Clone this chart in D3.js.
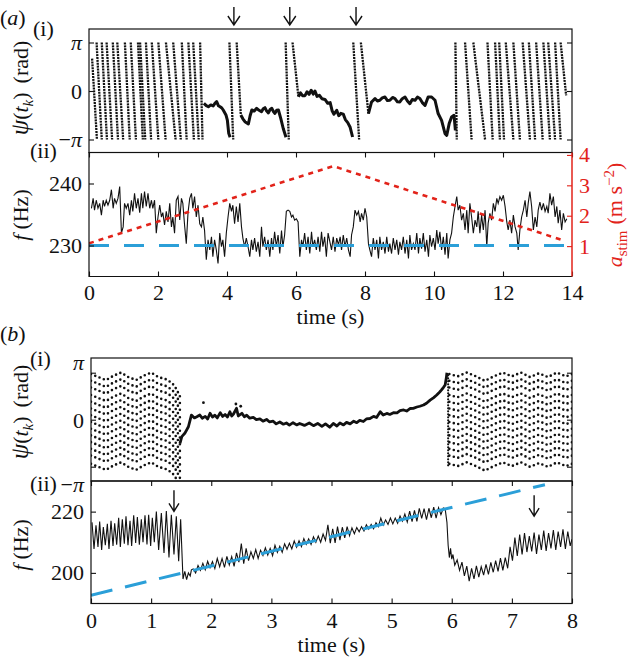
<!DOCTYPE html>
<html>
<head>
<meta charset="utf-8">
<script src="https://cdn.jsdelivr.net/npm/d3@7/dist/d3.min.js"></script>
<style>
body { margin: 0; background: #fff; }
svg { display: block; }
text { font-family: "Liberation Serif", "Times New Roman", Tinos, serif; fill: #111; }
</style>
</head>
<body>
<svg width="634" height="660"></svg>
<script>
var P = Math.PI;

// ---------- panel (a) data ----------
var timeTicksA = [0, 2, 4, 6, 8, 10, 12, 14];
var freqTicksA = [230, 240];
var stimTicks = [1, 2, 3, 4];
var phaseTicks = [-P, 0, P];
var arrowTimesA = [4.2, 5.82, 7.74];

// phase slips: [t start, phase start, t end, phase end]
var slipsA = [
	[0.09, 2.10, 0.23, -P], [0.22, P, 0.37, -P], [0.37, P, 0.52, -P], [0.51, P, 0.67, -P],
	[0.69, P, 0.84, -P], [0.82, P, 0.99, -P], [1.04, P, 1.18, -P], [1.21, P, 1.36, -P],
	[1.42, P, 1.56, -P], [1.48, P, 1.63, -P], [1.65, P, 1.80, -P], [1.82, P, 2.01, -P],
	[2.01, P, 2.22, -P], [2.23, P, 2.51, -P], [2.44, P, 2.66, -P], [2.69, P, 2.83, -P],
	[2.88, P, 3.04, -P], [3.02, P, 3.18, -P], [3.22, P, 3.29, -P],
	[4.07, P, 4.18, -P], [4.28, P, 4.40, -1.55],
	[5.70, P, 5.79, -P], [5.90, P, 6.07, -0.37],
	[7.66, P, 7.83, -P], [7.88, P, 8.10, -1.46],
	[10.62, P, 10.66, -P], [10.90, P, 11.09, -P], [11.14, P, 11.48, -P], [11.55, P, 11.70, -P],
	[11.77, P, 11.91, -P], [11.89, P, 12.03, -P], [12.08, P, 12.30, -P], [12.30, P, 12.49, -P],
	[12.57, P, 12.78, -P], [12.75, P, 12.93, -P], [12.96, P, 13.15, -P], [13.17, P, 13.36, -P],
	[13.31, P, 13.51, -P], [13.51, P, 13.67, -P], [13.67, P, 13.83, -0.28]
];

// phase-locked stretches [t, phase]
var lockedA = [
	[[3.33,-0.80],[3.40,-0.95],[3.46,-1.02],[3.53,-0.90],[3.60,-0.97],[3.65,-0.80],[3.70,-0.69],[3.75,-0.95],[3.80,-1.02],[3.85,-1.10],[3.89,-1.23],[3.97,-1.55],[4.01,-1.88],[4.05,-2.74],[4.09,-3.0]],
	[[4.40,-1.55],[4.46,-1.80],[4.52,-1.99],[4.62,-2.14],[4.67,-1.60],[4.72,-1.23],[4.79,-1.30],[4.86,-1.12],[4.93,-1.25],[5.00,-1.34],[5.05,-1.15],[5.10,-1.08],[5.15,-1.30],[5.20,-1.42],[5.25,-1.20],[5.30,-1.12],[5.35,-1.35],[5.39,-1.45],[5.44,-1.25],[5.49,-1.23],[5.56,-1.79],[5.63,-2.43],[5.71,-3.0]],
	[[6.07,-0.37],[6.13,-0.12],[6.19,-0.30],[6.26,-0.30],[6.32,-0.05],[6.38,-0.22],[6.44,0.05],[6.50,-0.20],[6.55,0.0],[6.61,-0.35],[6.68,-0.28],[6.75,-0.50],[6.84,-0.55],[6.92,-0.80],[6.99,-0.75],[7.05,-1.30],[7.10,-1.50],[7.18,-1.25],[7.24,-1.60],[7.30,-1.45],[7.37,-1.50],[7.43,-1.85],[7.50,-2.05],[7.57,-2.35],[7.64,-2.98]],
	[[8.10,-1.46],[8.19,-0.71],[8.29,-0.49],[8.36,-0.65],[8.43,-0.60],[8.50,-0.45],[8.58,-0.39],[8.65,-0.62],[8.72,-0.60],[8.80,-0.42],[8.87,-0.49],[8.94,-0.70],[9.01,-0.71],[9.08,-0.50],[9.16,-0.39],[9.23,-0.65],[9.30,-0.82],[9.37,-0.55],[9.45,-0.60],[9.52,-0.40],[9.59,-0.49],[9.66,-0.75],[9.74,-0.93],[9.83,-0.39],[9.93,-0.39],[10.03,-0.60],[10.12,-1.46],[10.22,-1.90],[10.32,-2.76],[10.37,-2.87],[10.44,-2.11],[10.51,-1.68],[10.58,-1.57],[10.62,-2.55]]
];

// measured frequency [t, Hz]
var freqA = [
	[0.07,236.0],[0.12,237.6],[0.16,235.7],[0.21,237.3],[0.26,236.0],[0.31,236.8],[0.36,234.9],[0.41,237.3],[0.45,236.3],[0.50,237.3],
	[0.55,236.5],[0.60,237.3],[0.65,239.0],[0.70,236.0],[0.74,237.6],[0.79,236.8],[0.84,237.6],[0.89,239.5],[0.94,232.0],[0.99,233.0],
	[1.03,236.8],[1.08,236.0],[1.13,236.8],[1.18,234.9],[1.23,237.3],[1.27,235.5],[1.32,238.4],[1.37,236.0],[1.42,237.6],[1.47,235.3],
	[1.52,238.4],[1.56,236.0],[1.61,238.7],[1.66,236.3],[1.71,238.4],[1.76,236.0],[1.81,237.3],[1.85,236.0],[1.90,237.3],[1.95,232.0],
	[2.00,234.6],[2.05,236.5],[2.10,234.6],[2.14,235.3],[2.19,233.3],[2.24,235.5],[2.29,233.8],[2.34,236.8],[2.39,233.0],[2.43,234.6],
	[2.48,232.0],[2.53,237.3],[2.58,237.9],[2.63,234.1],[2.68,237.6],[2.72,236.8],[2.77,233.3],[2.82,230.3],[2.87,235.3],[2.92,237.6],
	[2.97,238.4],[3.01,236.0],[3.06,237.9],[3.11,234.6],[3.16,236.5],[3.21,233.5],[3.26,233.0],[3.30,234.6],[3.35,232.4],[3.40,227.7],
	[3.45,230.9],[3.50,229.3],[3.55,231.4],[3.59,228.2],[3.64,230.9],[3.69,229.3],[3.74,227.1],[3.79,232.0],[3.84,229.8],[3.88,230.9],
	[3.93,228.2],[3.98,232.0],[4.03,234.6],[4.08,236.8],[4.13,235.5],[4.17,236.5],[4.22,233.5],[4.27,236.3],[4.32,233.8],[4.37,236.8],
	[4.42,233.0],[4.46,231.2],[4.51,229.8],[4.56,231.2],[4.61,229.8],[4.66,228.2],[4.71,230.9],[4.75,229.3],[4.80,231.2],[4.85,229.0],
	[4.90,230.6],[4.95,228.2],[5.00,233.0],[5.04,229.8],[5.09,231.4],[5.14,229.3],[5.19,230.9],[5.24,228.2],[5.29,231.2],[5.33,229.3],
	[5.38,232.2],[5.43,229.8],[5.48,231.7],[5.53,228.7],[5.58,232.4],[5.62,229.8],[5.67,231.7],[5.72,235.5],[5.77,235.7],[5.82,235.5],
	[5.87,234.6],[5.91,234.9],[5.96,234.1],[6.01,234.3],[6.06,233.8],[6.11,228.2],[6.16,230.9],[6.20,229.8],[6.25,232.0],[6.30,229.3],
	[6.35,231.4],[6.40,228.7],[6.45,232.2],[6.49,229.8],[6.54,230.9],[6.59,229.3],[6.64,231.4],[6.69,229.0],[6.74,232.2],[6.78,229.8],
	[6.83,231.4],[6.88,228.2],[6.93,232.0],[7.03,229.3],[7.08,231.4],[7.13,229.0],[7.18,231.2],[7.23,230.1],[7.28,231.4],[7.32,229.3],
	[7.37,231.7],[7.42,229.8],[7.47,231.2],[7.52,229.3],[7.57,228.2],[7.61,231.7],[7.66,233.0],[7.71,235.7],[7.76,234.9],[7.81,235.5],
	[7.86,233.8],[7.90,235.2],[7.95,234.1],[8.00,236.0],[8.05,234.6],[8.10,230.3],[8.14,229.3],[8.19,228.2],[8.24,231.2],[8.29,229.3],
	[8.34,230.9],[8.39,227.9],[8.43,231.4],[8.48,229.3],[8.53,230.6],[8.58,228.7],[8.63,231.4],[8.68,229.0],[8.72,230.3],[8.77,228.7],
	[8.82,231.2],[8.87,229.3],[8.92,230.9],[8.97,228.5],[9.01,230.6],[9.06,229.3],[9.11,231.4],[9.16,228.7],[9.21,230.9],[9.26,227.9],
	[9.30,231.7],[9.35,229.3],[9.40,230.3],[9.45,229.3],[9.50,232.0],[9.55,228.7],[9.59,231.2],[9.64,229.5],[9.69,232.0],[9.74,229.0],
	[9.79,230.9],[9.84,228.2],[9.88,231.7],[9.93,229.8],[9.98,231.2],[10.03,229.3],[10.08,232.5],[10.12,230.3],[10.17,232.2],[10.22,229.3],
	[10.27,231.4],[10.32,228.5],[10.37,232.0],[10.41,227.9],[10.46,230.9],[10.51,232.0],[10.56,234.6],[10.61,236.3],[10.66,237.9],[10.70,235.7],
	[10.75,236.5],[10.80,234.1],[10.85,235.2],[10.90,232.5],[10.95,235.7],[10.99,232.0],[11.04,236.8],[11.09,234.6],[11.14,232.0],[11.19,234.1],
	[11.24,233.0],[11.28,235.5],[11.33,232.0],[11.38,234.9],[11.43,232.5],[11.48,235.7],[11.53,229.8],[11.57,233.6],[11.62,235.2],[11.67,234.1],
	[11.72,236.8],[11.77,235.5],[11.82,237.6],[11.86,236.8],[11.91,237.9],[11.96,237.3],[12.01,238.1],[12.06,236.3],[12.11,233.8],[12.15,232.5],
	[12.20,234.1],[12.25,232.0],[12.30,234.9],[12.35,233.0],[12.40,232.0],[12.44,229.3],[12.49,232.5],[12.54,234.6],[12.59,235.7],[12.64,237.3],
	[12.69,234.6],[12.73,236.8],[12.78,238.7],[12.83,236.3],[12.88,232.5],[12.93,234.6],[12.98,233.0],[13.02,235.7],[13.07,237.0],[13.12,235.7],
	[13.17,236.8],[13.22,235.5],[13.27,236.3],[13.31,235.2],[13.36,238.4],[13.41,236.5],[13.46,237.9],[13.51,234.6],[13.56,236.3],[13.60,233.6],
	[13.65,235.7],[13.70,232.5],[13.75,235.2],[13.80,233.8],[13.85,234.3]
];

var stimA = [[0, 1.09], [7.08, 3.63], [13.8, 1.17]];
var targetA = [[0, 230], [14, 230]];

// ---------- panel (b) data ----------
var timeTicksB = [0, 1, 2, 3, 4, 5, 6, 7, 8];
var freqTicksB = [200, 220];
var arrowsB = [[1.38, 220.1], [7.37, 218.5]];
var targetB = [[0, 192.7], [7.55, 228.8]];

var freqB = [
	[0.017,216.5],[0.050,207.8],[0.083,215.5],[0.116,208.5],[0.144,216.8],[0.177,207.5],[0.205,215.0],[0.238,209.0],[0.272,216.0],[0.299,207.8],
	[0.333,217.0],[0.366,208.8],[0.394,216.2],[0.427,209.2],[0.460,218.0],[0.488,208.5],[0.521,217.5],[0.554,209.5],[0.582,218.5],[0.615,209.0],
	[0.649,217.0],[0.676,208.8],[0.710,218.8],[0.743,209.8],[0.771,218.2],[0.804,209.2],[0.837,217.5],[0.865,210.0],[0.898,218.8],[0.931,209.3],
	[0.959,219.0],[0.992,208.8],[1.020,218.0],[1.053,210.0],[1.087,220.0],[1.125,207.5],[1.170,219.5],[1.214,206.5],[1.253,220.2],[1.297,205.0],
	[1.336,219.0],[1.380,206.0],[1.419,218.5],[1.458,203.8],[1.491,217.5],[1.53,198.0],[1.56,200.5],[1.59,197.8],[1.62,200.0],[1.65,199.0],
	[1.67,201.0],[1.70,201.3],[1.74,200.0],[1.78,202.4],[1.82,200.8],[1.86,203.1],[1.90,201.0],[1.94,203.8],[1.98,201.7],[2.02,203.7],
	[2.06,201.4],[2.10,204.7],[2.14,202.0],[2.18,204.7],[2.22,201.8],[2.26,205.4],[2.30,202.6],[2.34,205.3],[2.38,202.1],[2.42,206.5],
	[2.46,203.5],[2.50,209.6],[2.54,203.0],[2.58,208.0],[2.62,204.0],[2.66,206.9],[2.70,204.7],[2.74,207.6],[2.78,204.7],[2.82,207.4],
	[2.86,205.7],[2.90,208.2],[2.94,205.8],[2.98,208.0],[3.02,205.6],[3.06,209.0],[3.10,206.7],[3.14,208.7],[3.18,206.7],[3.22,209.5],
	[3.26,207.7],[3.30,209.7],[3.34,207.8],[3.38,210.4],[3.42,208.4],[3.46,210.5],[3.50,208.6],[3.54,211.2],[3.58,209.3],[3.62,211.1],
	[3.66,209.3],[3.70,211.8],[3.74,210.0],[3.78,212.0],[3.82,210.0],[3.86,212.7],[3.90,210.6],[3.94,215.7],[3.98,209.7],[4.02,214.4],
	[4.06,209.8],[4.10,215.1],[4.14,210.7],[4.18,214.9],[4.22,211.4],[4.26,215.1],[4.30,212.1],[4.34,214.7],[4.38,212.8],[4.42,214.8],
	[4.46,213.4],[4.50,215.1],[4.54,213.7],[4.58,215.7],[4.62,214.3],[4.66,215.8],[4.70,214.4],[4.74,216.4],[4.78,215.1],[4.82,217.9],
	[4.86,215.6],[4.90,217.3],[4.94,215.8],[4.98,217.9],[5.02,216.0],[5.06,217.9],[5.10,216.2],[5.14,218.6],[5.18,216.9],[5.22,219.2],
	[5.26,216.6],[5.30,220.2],[5.34,216.7],[5.38,220.4],[5.42,216.8],[5.46,221.1],[5.50,217.8],[5.54,221.0],[5.58,217.4],[5.62,221.1],
	[5.66,218.0],[5.70,221.5],[5.74,217.9],[5.78,221.3],[5.82,219.0],[5.86,221.2],[5.89,221.0],[5.92,216.5],[5.94,209.0],[5.96,205.0],
	[5.98,208.0],[6.00,204.5],[6.02,206.0],[6.05,202.5],[6.09,204.2],[6.13,200.8],[6.17,203.5],[6.21,199.0],[6.25,202.2],[6.29,197.3],
	[6.33,201.5],[6.37,198.0],[6.41,202.3],[6.45,198.6],[6.49,202.0],[6.53,199.3],[6.57,202.8],[6.61,199.5],[6.65,203.4],[6.69,200.2],
	[6.73,204.0],[6.77,200.5],[6.81,204.8],[6.85,200.8],[6.89,205.0],[6.93,201.5],[6.97,208.5],[7.01,204.0],[7.05,211.5],[7.09,205.5],
	[7.13,212.5],[7.17,206.0],[7.21,213.0],[7.25,206.8],[7.29,212.0],[7.33,207.0],[7.37,213.2],[7.41,206.2],[7.45,212.5],[7.49,207.5],
	[7.53,213.8],[7.57,207.2],[7.61,213.0],[7.65,208.0],[7.69,214.0],[7.73,207.5],[7.77,213.5],[7.81,208.5],[7.85,214.2],[7.89,207.8],
	[7.93,213.5],[7.97,208.8],[8.00,211.0]
];

// locked phase in (b)(i) [t, phase]
var lockedB = [
	[1.48,-1.58],[1.51,-1.13],[1.56,-0.91],[1.62,-0.47],[1.67,0.31],[1.72,0.12],[1.76,0.20],[1.81,0.31],[1.85,0.10],[1.90,0.22],
	[1.94,0.05],[1.98,0.43],[2.02,0.18],[2.06,0.30],[2.10,0.12],[2.15,0.47],[2.19,0.22],[2.23,0.35],[2.27,0.18],[2.31,0.53],
	[2.34,0.25],[2.37,0.38],[2.42,0.76],[2.45,0.25],[2.51,0.43],[2.55,0.20],[2.59,0.30],[2.64,0.10],[2.70,0.15],[2.75,0.00],
	[2.81,0.05],[2.86,-0.10],[2.92,0.02],[2.97,-0.15],[3.03,-0.10],[3.08,-0.28],[3.14,-0.15],[3.20,-0.30],[3.25,-0.22],[3.30,-0.36],
	[3.36,-0.20],[3.42,-0.35],[3.47,-0.25],[3.55,-0.38],[3.63,-0.22],[3.70,-0.40],[3.77,-0.25],[3.84,-0.45],[3.90,-0.28],[3.97,-0.50],
	[4.03,-0.25],[4.09,-0.42],[4.14,-0.22],[4.20,-0.35],[4.25,-0.18],[4.31,-0.28],[4.37,-0.10],[4.42,-0.20],[4.47,-0.05],[4.53,-0.12],
	[4.58,0.05],[4.64,0.08],[4.70,0.22],[4.75,0.15],[4.81,0.53],[4.86,0.31],[4.92,0.42],[4.97,0.35],[5.03,0.47],[5.09,0.45],
	[5.14,0.60],[5.20,0.65],[5.25,0.58],[5.31,0.75],[5.36,0.76],[5.42,0.85],[5.47,0.90],[5.53,0.98],[5.58,1.10],[5.64,1.31],
	[5.70,1.48],[5.75,1.65],[5.80,1.85],[5.83,1.99],[5.86,2.15],[5.89,2.32],[5.91,2.80],[5.92,3.14]
];
var strayDotsB = [[1.87, 1.14], [2.41, 1.05], [2.49, 0.90]];

// unlocked stretches in (b)(i): rows of stroboscopic dots
var rowPhasesB = [3.05, 2.6, 2.15, 1.65, 1.2, 0.75, 0.3, -0.15, -0.6, -1.05, -1.5, -1.95, -2.4, -2.95];
var rowShapeLeftB = [[0.0,0],[0.12,-0.2],[0.25,-0.4],[0.38,-0.1],[0.5,0.1],[0.62,-0.2],[0.75,-0.4],[0.88,-0.1],[1.0,0.1],[1.12,-0.2],[1.25,-0.35],[1.35,-0.6],[1.42,-1.0],[1.48,-1.5]];
var rowShapeRightB = [[5.96,0],[6.1,-0.15],[6.25,0.1],[6.4,-0.15],[6.55,-0.45],[6.7,-0.15],[6.85,0.1],[7.0,-0.15],[7.15,0.1],[7.3,-0.2],[7.45,0.05],[7.6,-0.2],[7.75,0.1],[7.9,-0.15],[8.0,0.0]];
var dotColumnsB = [[5.94, -3.05, 3.1]];

// ---------- drawing ----------
var svg = d3.select("svg");
var red = "#e2231a", blue = "#2b9fd8";

var xA = d3.scaleLinear().domain([0, 14]).range([89, 572]);
var yPhA = d3.scaleLinear().domain([-P, P]).range([139.5, 42.5]);
var yFA = d3.scaleLinear().domain([225, 245]).range([276.5, 152.5]);
var yStim = d3.scaleLinear().domain([0, 4.08]).range([276.5, 152.5]);
var xB = d3.scaleLinear().domain([0, 8]).range([91, 572]);
var yPhB = d3.scaleLinear().domain([-P, P]).range([466.7, 372.7]);
var yFB = d3.scaleLinear().domain([190, 230]).range([603.5, 481]);

function clip(id, x0, y0, x1, y1) {
	svg.append("clipPath").attr("id", id).append("rect")
		.attr("x", x0).attr("y", y0).attr("width", x1 - x0).attr("height", y1 - y0);
}
clip("cAi", 89, 29, 572, 152.5);
clip("cAii", 89, 152.5, 572, 276.5);
clip("cBi", 91, 358, 572, 481);
clip("cBii", 91, 481, 572, 603.5);

function phaseText(sel) {
	sel.each(function(d) {
		var t = d3.select(this).text("");
		if (d < 0) t.append("tspan").text("\u2212");
		if (d !== 0) t.append("tspan").attr("font-style", "italic").text("\u03c0");
		else t.append("tspan").text("0");
	});
}
function styleAxis(g) {
	g.select(".domain").remove();
	g.selectAll("line").attr("stroke", "#111").attr("stroke-width", 1.1);
	g.selectAll("text").attr("font-size", 22).attr("font-family", null).attr("fill", "#111");
}

// ---- (a)(i) ----
var gAi = svg.append("g").attr("clip-path", "url(#cAi)");
var lineA = d3.line().x(function(d) { return xA(d[0]); }).y(function(d) { return yPhA(d[1]); });
slipsA.forEach(function(s) {
	gAi.append("path").attr("d", lineA([[s[0], s[1]], [s[2], s[3]]]))
		.attr("fill", "none").attr("stroke", "#111").attr("stroke-width", 2.3)
		.attr("stroke-dasharray", "2,0.9");
});
lockedA.forEach(function(seg) {
	gAi.append("path").attr("d", lineA(seg)).attr("fill", "none")
		.attr("stroke", "#111").attr("stroke-width", 3).attr("stroke-linejoin", "round");
});
svg.append("g").attr("transform", "translate(89,0)")
	.call(d3.axisLeft(yPhA).tickValues(phaseTicks).tickSize(-5).tickPadding(7))
	.call(styleAxis).selectAll("text").call(phaseText);
svg.append("g").attr("transform", "translate(572,0)")
	.call(d3.axisRight(yPhA).tickValues(phaseTicks).tickSize(-5).tickFormat(""))
	.call(styleAxis);
svg.append("rect").attr("x", 89).attr("y", 29).attr("width", 483).attr("height", 123.5)
	.attr("fill", "none").attr("stroke", "#111").attr("stroke-width", 1.2);

arrowTimesA.forEach(function(t) {
	var x = xA(t);
	svg.append("path").attr("d", "M" + x + ",7V25M" + (x - 6) + ",16L" + x + ",25L" + (x + 6) + ",16")
		.attr("fill", "none").attr("stroke", "#111").attr("stroke-width", 1.4);
});

// ---- (a)(ii) ----
var gAii = svg.append("g").attr("clip-path", "url(#cAii)");
var lineF = d3.line().x(function(d) { return xA(d[0]); }).y(function(d) { return yFA(d[1]); });
var lineS = d3.line().x(function(d) { return xA(d[0]); }).y(function(d) { return yStim(d[1]); });
gAii.append("path").attr("d", lineF(freqA)).attr("fill", "none").attr("stroke", "#111").attr("stroke-width", 1.1);
gAii.append("path").attr("d", lineF(targetA)).attr("fill", "none").attr("stroke", blue)
	.attr("stroke-width", 3).attr("stroke-dasharray", "20,15");
gAii.append("path").attr("d", lineS(stimA)).attr("fill", "none").attr("stroke", red)
	.attr("stroke-width", 2.6).attr("stroke-dasharray", "5,5");

svg.append("g").attr("transform", "translate(0,276.5)")
	.call(d3.axisBottom(xA).tickValues(timeTicksA).tickSize(-5).tickPadding(8).tickFormat(d3.format("d")))
	.call(styleAxis);
svg.append("g").attr("transform", "translate(0,152.5)")
	.call(d3.axisTop(xA).tickValues(timeTicksA).tickSize(-5).tickFormat(""))
	.call(styleAxis);
svg.append("g").attr("transform", "translate(89,0)")
	.call(d3.axisLeft(yFA).tickValues(freqTicksA).tickSize(-5).tickPadding(7))
	.call(styleAxis);
svg.append("path").attr("d", "M572,152.5H89V276.5H572").attr("fill", "none").attr("stroke", "#111").attr("stroke-width", 1.2);
var gStim = svg.append("g").attr("transform", "translate(572,0)")
	.call(d3.axisRight(yStim).tickValues(stimTicks).tickSize(-5).tickPadding(7).tickFormat(d3.format("d")))
	.call(styleAxis);
gStim.selectAll("line").attr("stroke", red);
gStim.selectAll("text").attr("fill", red).style("fill", red);
svg.append("line").attr("x1", 572).attr("x2", 572).attr("y1", 152.5).attr("y2", 276.5)
	.attr("stroke", red).attr("stroke-width", 1.5);

// ---- (b)(i) ----
var gBi = svg.append("g").attr("clip-path", "url(#cBi)");
var lineB = d3.line().x(function(d) { return xB(d[0]); }).y(function(d) { return yPhB(d[1]); });
[rowShapeLeftB, rowShapeRightB].forEach(function(shape) {
	rowPhasesB.forEach(function(p0) {
		gBi.append("path").attr("d", lineB(shape.map(function(d) { return [d[0], p0 + d[1]]; })))
			.attr("fill", "none").attr("stroke", "#111").attr("stroke-width", 2.6)
			.attr("stroke-linecap", "round").attr("stroke-dasharray", "0,4.6");
	});
});
dotColumnsB.forEach(function(c) {
	gBi.append("path").attr("d", lineB([[c[0], c[1]], [c[0], c[2]]]))
		.attr("fill", "none").attr("stroke", "#111").attr("stroke-width", 2.2)
		.attr("stroke-linecap", "round").attr("stroke-dasharray", "0,3");
});
gBi.append("path").attr("d", lineB(lockedB)).attr("fill", "none").attr("stroke", "#111")
	.attr("stroke-width", 2.8).attr("stroke-linejoin", "round");
gBi.selectAll("circle.stray").data(strayDotsB).enter().append("circle")
	.attr("cx", function(d) { return xB(d[0]); }).attr("cy", function(d) { return yPhB(d[1]); })
	.attr("r", 1.4).attr("fill", "#111");

var axBi = svg.append("g").attr("transform", "translate(91,0)")
	.call(d3.axisLeft(yPhB).tickValues(phaseTicks).tickSize(-5).tickPadding(7))
	.call(styleAxis);
axBi.selectAll("text").call(phaseText);
// labels sit at the frame corners in the original
axBi.selectAll(".tick text").attr("y", function(d) { return d > 0 ? -10 : (d < 0 ? 18 : 1); });
svg.append("g").attr("transform", "translate(572,0)")
	.call(d3.axisRight(yPhB).tickValues(phaseTicks).tickSize(-5).tickFormat(""))
	.call(styleAxis);
svg.append("rect").attr("x", 91).attr("y", 358).attr("width", 481).attr("height", 123)
	.attr("fill", "none").attr("stroke", "#111").attr("stroke-width", 1.2);

// ---- (b)(ii) ----
var gBii = svg.append("g").attr("clip-path", "url(#cBii)");
var lineFB = d3.line().x(function(d) { return xB(d[0]); }).y(function(d) { return yFB(d[1]); });
gBii.append("path").attr("d", lineFB(freqB)).attr("fill", "none").attr("stroke", "#111").attr("stroke-width", 1.1);
gBii.append("path").attr("d", lineFB(targetB)).attr("fill", "none").attr("stroke", blue)
	.attr("stroke-width", 3).attr("stroke-dasharray", "22,13");
arrowsB.forEach(function(a) {
	var x = xB(a[0]), y = yFB(a[1]);
	svg.append("path").attr("d", "M" + x + "," + (y - 21) + "V" + y + "M" + (x - 5) + "," + (y - 8) + "L" + x + "," + y + "L" + (x + 5) + "," + (y - 8))
		.attr("fill", "none").attr("stroke", "#111").attr("stroke-width", 1.4);
});
svg.append("g").attr("transform", "translate(0,603.5)")
	.call(d3.axisBottom(xB).tickValues(timeTicksB).tickSize(-5).tickPadding(9).tickFormat(d3.format("d")))
	.call(styleAxis);
svg.append("g").attr("transform", "translate(0,481)")
	.call(d3.axisTop(xB).tickValues(timeTicksB).tickSize(-5).tickFormat(""))
	.call(styleAxis);
svg.append("g").attr("transform", "translate(91,0)")
	.call(d3.axisLeft(yFB).tickValues(freqTicksB).tickSize(-5).tickPadding(7))
	.call(styleAxis);
svg.append("g").attr("transform", "translate(572,0)")
	.call(d3.axisRight(yFB).tickValues(freqTicksB).tickSize(-5).tickFormat(""))
	.call(styleAxis);
svg.append("rect").attr("x", 91).attr("y", 481).attr("width", 481).attr("height", 122.5)
	.attr("fill", "none").attr("stroke", "#111").attr("stroke-width", 1.2);

// ---- labels ----
function label(x, y, parts, rot, color) {
	var t = svg.append("text").attr("font-size", 22).attr("text-anchor", rot ? "middle" : "start")
		.attr("transform", "translate(" + x + "," + y + ")" + (rot ? " rotate(-90)" : ""));
	if (color) t.style("fill", color);
	parts.forEach(function(p) {
		var s = t.append("tspan").text(p.t);
		if (p.i) s.attr("font-style", "italic");
		if (p.fs) s.attr("font-size", p.fs);
		if (p.dy) s.attr("dy", p.dy);
		if (p.dx) s.attr("dx", p.dx);
		if (color) s.style("fill", color);
	});
	return t;
}
label(0, 25, [{t: "("}, {t: "a", i: 1}, {t: ")"}]);
label(33, 36, [{t: "(i)"}]);
label(30, 158, [{t: "(ii)"}]);
label(0, 341, [{t: "("}, {t: "b", i: 1}, {t: ")"}]);
label(30, 366, [{t: "(i)"}]);
label(30, 491, [{t: "(ii)"}]);

var psiParts = [{t: "\u03c8", i: 1, fs: 25}, {t: "("}, {t: "t", i: 1}, {t: "k", i: 1, fs: 15, dy: 5},
	{t: ")", dy: -5}, {t: "(rad)", dx: 9}];
label(28, 88, psiParts, true);
label(28, 412, psiParts, true);
var fParts = [{t: "f", i: 1}, {t: "(Hz)", dx: 5}];
label(28, 215, fParts, true);
label(28, 545, fParts, true);
label(330.5, 324, [{t: "time (s)"}]).attr("text-anchor", "middle");
label(331.5, 652, [{t: "time (s)"}]).attr("text-anchor", "middle");
label(622, 215, [{t: "a", i: 1}, {t: "stim", fs: 15, dy: 5}, {t: "(m s", dy: -5, dx: 6}, {t: "\u22122", fs: 15, dy: -8}, {t: ")", dy: 8}], true, red);
</script>
</body>
</html>
